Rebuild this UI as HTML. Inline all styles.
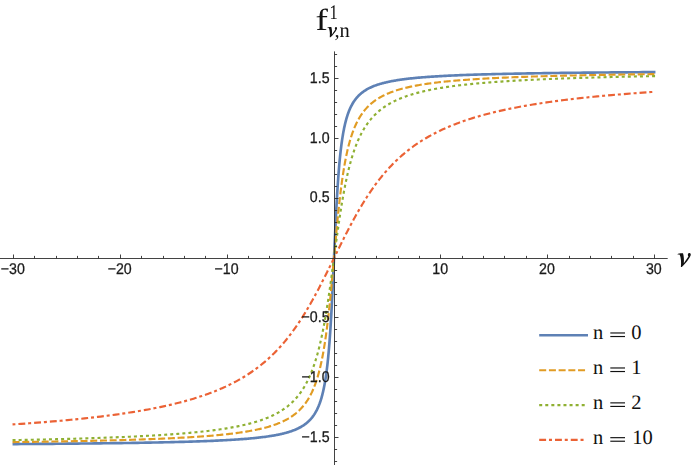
<!DOCTYPE html>
<html><head><meta charset="utf-8"><title>plot</title>
<style>html,body{margin:0;padding:0;background:#fff;}body{width:692px;height:465px;overflow:hidden;font-family:"Liberation Sans",sans-serif;}svg{display:block}</style>
</head><body>
<svg width="692" height="465" viewBox="0 0 692 465">
<rect width="692" height="465" fill="#ffffff"/>
<g fill="none" stroke-linejoin="round">
<path d="M12.55,444.09 L16.81,444.06 L21.01,444.04 L25.16,444.01 L29.25,443.98 L33.29,443.95 L37.28,443.92 L41.21,443.89 L45.09,443.86 L48.92,443.84 L52.70,443.81 L56.43,443.77 L60.11,443.74 L63.74,443.71 L67.33,443.68 L70.86,443.65 L74.35,443.62 L77.79,443.58 L81.19,443.55 L84.54,443.52 L87.85,443.48 L91.11,443.45 L94.33,443.41 L97.51,443.37 L100.65,443.34 L103.74,443.30 L106.80,443.26 L109.81,443.23 L112.78,443.19 L115.72,443.15 L118.61,443.11 L121.47,443.07 L124.29,443.03 L127.07,442.99 L129.82,442.95 L132.53,442.91 L135.20,442.86 L137.84,442.82 L140.44,442.78 L143.01,442.73 L145.54,442.69 L148.04,442.64 L150.51,442.59 L152.95,442.55 L155.35,442.50 L157.72,442.45 L160.06,442.40 L162.37,442.35 L164.65,442.30 L166.90,442.25 L169.12,442.20 L171.31,442.15 L173.47,442.10 L175.60,442.04 L177.70,441.99 L179.78,441.93 L181.83,441.88 L183.85,441.82 L185.84,441.76 L187.81,441.71 L189.75,441.65 L191.67,441.59 L193.56,441.53 L195.43,441.47 L197.27,441.40 L199.09,441.34 L200.88,441.28 L202.65,441.21 L204.40,441.15 L206.12,441.08 L207.82,441.01 L209.50,440.95 L211.16,440.88 L212.79,440.81 L214.41,440.74 L216.00,440.66 L217.57,440.59 L219.12,440.52 L220.65,440.44 L222.16,440.37 L223.65,440.29 L225.12,440.21 L226.57,440.13 L228.00,440.05 L229.41,439.97 L230.81,439.89 L232.18,439.80 L233.54,439.72 L234.88,439.63 L236.20,439.55 L237.51,439.46 L238.79,439.37 L240.06,439.28 L241.32,439.19 L242.56,439.09 L243.78,439.00 L244.98,438.90 L246.17,438.81 L247.35,438.71 L248.50,438.61 L249.65,438.51 L250.78,438.41 L251.89,438.30 L252.99,438.20 L254.07,438.09 L255.14,437.98 L256.20,437.87 L257.24,437.76 L258.27,437.65 L259.28,437.54 L260.29,437.42 L261.27,437.30 L262.25,437.18 L263.21,437.06 L264.16,436.94 L265.10,436.82 L266.03,436.69 L266.94,436.56 L267.84,436.44 L268.73,436.30 L269.61,436.17 L270.48,436.04 L271.34,435.90 L272.18,435.76 L273.01,435.62 L273.84,435.48 L274.65,435.34 L275.45,435.19 L276.24,435.04 L277.02,434.89 L277.79,434.74 L278.55,434.58 L279.30,434.43 L280.05,434.27 L280.78,434.11 L281.50,433.94 L282.21,433.78 L282.92,433.61 L283.61,433.44 L284.30,433.27 L284.97,433.09 L285.64,432.91 L286.30,432.73 L286.95,432.55 L287.59,432.36 L288.23,432.18 L288.85,431.98 L289.47,431.79 L290.08,431.59 L290.68,431.39 L291.28,431.19 L291.87,430.99 L292.45,430.78 L293.02,430.57 L293.58,430.35 L294.14,430.14 L294.69,429.91 L295.23,429.69 L295.77,429.46 L296.30,429.23 L296.82,429.00 L297.34,428.76 L297.85,428.52 L298.36,428.28 L298.85,428.03 L299.34,427.78 L299.83,427.52 L300.31,427.26 L300.78,427.00 L301.25,426.73 L301.71,426.46 L302.16,426.18 L302.61,425.90 L303.06,425.62 L303.50,425.33 L303.93,425.04 L304.36,424.74 L304.78,424.44 L305.20,424.13 L305.61,423.82 L306.02,423.50 L306.42,423.18 L306.82,422.86 L307.21,422.53 L307.60,422.19 L307.98,421.85 L308.36,421.50 L308.73,421.15 L309.10,420.79 L309.47,420.42 L309.83,420.05 L310.19,419.67 L310.54,419.29 L310.89,418.90 L311.23,418.50 L311.57,418.10 L311.90,417.69 L312.24,417.28 L312.56,416.85 L312.89,416.42 L313.21,415.98 L313.53,415.54 L313.84,415.08 L314.15,414.62 L314.45,414.15 L314.76,413.67 L315.06,413.19 L315.35,412.69 L315.64,412.19 L315.93,411.68 L316.22,411.15 L316.50,410.62 L316.78,410.08 L317.06,409.53 L317.33,408.96 L317.60,408.39 L317.87,407.81 L318.14,407.21 L318.40,406.60 L318.66,405.99 L318.91,405.35 L319.17,404.71 L319.42,404.06 L319.67,403.39 L319.91,402.70 L320.16,402.01 L320.40,401.30 L320.64,400.57 L320.87,399.83 L321.11,399.07 L321.34,398.30 L321.57,397.51 L321.80,396.71 L322.02,395.88 L322.24,395.04 L322.46,394.18 L322.68,393.30 L322.90,392.40 L323.12,391.48 L323.33,390.54 L323.54,389.58 L323.75,388.60 L323.96,387.59 L324.16,386.56 L324.36,385.50 L324.57,384.42 L324.77,383.31 L324.97,382.18 L325.16,381.02 L325.36,379.82 L325.55,378.60 L325.75,377.35 L325.94,376.07 L326.13,374.75 L326.31,373.40 L326.50,372.01 L326.69,370.59 L326.87,369.13 L327.05,367.63 L327.24,366.09 L327.42,364.51 L327.60,362.89 L327.77,361.23 L327.95,359.52 L328.13,357.76 L328.30,355.96 L328.48,354.11 L328.65,352.20 L328.82,350.25 L328.99,348.24 L329.16,346.18 L329.33,344.06 L329.50,341.89 L329.67,339.65 L329.83,337.36 L330.00,335.01 L330.17,332.60 L330.33,330.13 L330.50,327.59 L330.66,325.00 L330.82,322.34 L330.98,319.61 L331.15,316.83 L331.31,313.98 L331.47,311.07 L331.63,308.10 L331.79,305.08 L331.95,301.99 L332.11,298.85 L332.27,295.66 L332.42,292.42 L332.58,289.13 L332.74,285.80 L332.90,282.43 L333.06,279.02 L333.21,275.58 L333.37,272.12 L333.53,268.63 L333.69,265.13 L333.84,261.62 L334.00,258.10 L334.16,254.58 L334.31,251.07 L334.47,247.57 L334.63,244.08 L334.79,240.62 L334.94,237.18 L335.10,233.77 L335.26,230.40 L335.42,227.07 L335.58,223.78 L335.73,220.54 L335.89,217.35 L336.05,214.21 L336.21,211.12 L336.37,208.10 L336.53,205.13 L336.69,202.22 L336.85,199.37 L337.02,196.59 L337.18,193.86 L337.34,191.20 L337.50,188.61 L337.67,186.07 L337.83,183.60 L338.00,181.19 L338.17,178.84 L338.33,176.55 L338.50,174.31 L338.67,172.14 L338.84,170.02 L339.01,167.96 L339.18,165.95 L339.35,164.00 L339.52,162.09 L339.70,160.24 L339.87,158.44 L340.05,156.68 L340.23,154.97 L340.40,153.31 L340.58,151.69 L340.76,150.11 L340.95,148.57 L341.13,147.07 L341.31,145.61 L341.50,144.19 L341.69,142.80 L341.87,141.45 L342.06,140.13 L342.25,138.85 L342.45,137.60 L342.64,136.38 L342.84,135.18 L343.03,134.02 L343.23,132.89 L343.43,131.78 L343.64,130.70 L343.84,129.64 L344.04,128.61 L344.25,127.60 L344.46,126.62 L344.67,125.66 L344.88,124.72 L345.10,123.80 L345.32,122.90 L345.54,122.02 L345.76,121.16 L345.98,120.32 L346.20,119.49 L346.43,118.69 L346.66,117.90 L346.89,117.13 L347.13,116.37 L347.36,115.63 L347.60,114.90 L347.84,114.19 L348.09,113.50 L348.33,112.81 L348.58,112.14 L348.83,111.49 L349.09,110.85 L349.34,110.21 L349.60,109.60 L349.86,108.99 L350.13,108.39 L350.40,107.81 L350.67,107.24 L350.94,106.67 L351.22,106.12 L351.50,105.58 L351.78,105.05 L352.07,104.52 L352.36,104.01 L352.65,103.51 L352.94,103.01 L353.24,102.53 L353.55,102.05 L353.85,101.58 L354.16,101.12 L354.47,100.66 L354.79,100.22 L355.11,99.78 L355.44,99.35 L355.76,98.92 L356.10,98.51 L356.43,98.10 L356.77,97.70 L357.11,97.30 L357.46,96.91 L357.81,96.53 L358.17,96.15 L358.53,95.78 L358.90,95.41 L359.27,95.05 L359.64,94.70 L360.02,94.35 L360.40,94.01 L360.79,93.67 L361.18,93.34 L361.58,93.02 L361.98,92.70 L362.39,92.38 L362.80,92.07 L363.22,91.76 L363.64,91.46 L364.07,91.16 L364.50,90.87 L364.94,90.58 L365.39,90.30 L365.84,90.02 L366.29,89.74 L366.75,89.47 L367.22,89.20 L367.69,88.94 L368.17,88.68 L368.66,88.42 L369.15,88.17 L369.64,87.92 L370.15,87.68 L370.66,87.44 L371.18,87.20 L371.70,86.97 L372.23,86.74 L372.77,86.51 L373.31,86.29 L373.86,86.06 L374.42,85.85 L374.98,85.63 L375.55,85.42 L376.13,85.21 L376.72,85.01 L377.32,84.81 L377.92,84.61 L378.53,84.41 L379.15,84.22 L379.77,84.02 L380.41,83.84 L381.05,83.65 L381.70,83.47 L382.36,83.29 L383.03,83.11 L383.70,82.93 L384.39,82.76 L385.08,82.59 L385.79,82.42 L386.50,82.26 L387.22,82.09 L387.95,81.93 L388.70,81.77 L389.45,81.62 L390.21,81.46 L390.98,81.31 L391.76,81.16 L392.55,81.01 L393.35,80.86 L394.16,80.72 L394.99,80.58 L395.82,80.44 L396.66,80.30 L397.52,80.16 L398.39,80.03 L399.27,79.90 L400.16,79.76 L401.06,79.64 L401.97,79.51 L402.90,79.38 L403.84,79.26 L404.79,79.14 L405.75,79.02 L406.73,78.90 L407.71,78.78 L408.72,78.66 L409.73,78.55 L410.76,78.44 L411.80,78.33 L412.86,78.22 L413.93,78.11 L415.01,78.00 L416.11,77.90 L417.22,77.79 L418.35,77.69 L419.50,77.59 L420.65,77.49 L421.83,77.39 L423.02,77.30 L424.22,77.20 L425.44,77.11 L426.68,77.01 L427.94,76.92 L429.21,76.83 L430.49,76.74 L431.80,76.65 L433.12,76.57 L434.46,76.48 L435.82,76.40 L437.19,76.31 L438.59,76.23 L440.00,76.15 L441.43,76.07 L442.88,75.99 L444.35,75.91 L445.84,75.83 L447.35,75.76 L448.88,75.68 L450.43,75.61 L452.00,75.54 L453.59,75.46 L455.21,75.39 L456.84,75.32 L458.50,75.25 L460.18,75.19 L461.88,75.12 L463.60,75.05 L465.35,74.99 L467.12,74.92 L468.91,74.86 L470.73,74.80 L472.57,74.73 L474.44,74.67 L476.33,74.61 L478.25,74.55 L480.19,74.49 L482.16,74.44 L484.15,74.38 L486.17,74.32 L488.22,74.27 L490.30,74.21 L492.40,74.16 L494.53,74.10 L496.69,74.05 L498.88,74.00 L501.10,73.95 L503.35,73.90 L505.63,73.85 L507.94,73.80 L510.28,73.75 L512.65,73.70 L515.05,73.65 L517.49,73.61 L519.96,73.56 L522.46,73.51 L524.99,73.47 L527.56,73.42 L530.16,73.38 L532.80,73.34 L535.47,73.29 L538.18,73.25 L540.93,73.21 L543.71,73.17 L546.53,73.13 L549.39,73.09 L552.28,73.05 L555.22,73.01 L558.19,72.97 L561.20,72.94 L564.26,72.90 L567.35,72.86 L570.49,72.83 L573.67,72.79 L576.89,72.75 L580.15,72.72 L583.46,72.68 L586.81,72.65 L590.21,72.62 L593.65,72.58 L597.14,72.55 L600.67,72.52 L604.26,72.49 L607.89,72.46 L611.57,72.43 L615.30,72.39 L619.08,72.36 L622.91,72.34 L626.79,72.31 L630.72,72.28 L634.71,72.25 L638.75,72.22 L642.84,72.19 L646.99,72.16 L651.19,72.14 L655.45,72.11" stroke="#5e81b5" stroke-width="2.65" stroke-linecap="butt"/>
<path d="M12.55,442.10 L16.81,442.05 L21.01,441.99 L25.16,441.94 L29.25,441.88 L33.29,441.83 L37.28,441.77 L41.21,441.71 L45.09,441.65 L48.92,441.59 L52.70,441.53 L56.43,441.47 L60.11,441.41 L63.74,441.35 L67.33,441.29 L70.86,441.22 L74.35,441.16 L77.79,441.09 L81.19,441.02 L84.54,440.96 L87.85,440.89 L91.11,440.82 L94.33,440.75 L97.51,440.67 L100.65,440.60 L103.74,440.53 L106.80,440.45 L109.81,440.38 L112.78,440.30 L115.72,440.23 L118.61,440.15 L121.47,440.07 L124.29,439.99 L127.07,439.90 L129.82,439.82 L132.53,439.74 L135.20,439.65 L137.84,439.57 L140.44,439.48 L143.01,439.39 L145.54,439.30 L148.04,439.21 L150.51,439.12 L152.95,439.02 L155.35,438.93 L157.72,438.83 L160.06,438.74 L162.37,438.64 L164.65,438.54 L166.90,438.44 L169.12,438.33 L171.31,438.23 L173.47,438.13 L175.60,438.02 L177.70,437.91 L179.78,437.80 L181.83,437.69 L183.85,437.58 L185.84,437.46 L187.81,437.35 L189.75,437.23 L191.67,437.11 L193.56,436.99 L195.43,436.87 L197.27,436.75 L199.09,436.62 L200.88,436.49 L202.65,436.37 L204.40,436.24 L206.12,436.10 L207.82,435.97 L209.50,435.83 L211.16,435.70 L212.79,435.56 L214.41,435.42 L216.00,435.27 L217.57,435.13 L219.12,434.98 L220.65,434.83 L222.16,434.68 L223.65,434.53 L225.12,434.37 L226.57,434.22 L228.00,434.06 L229.41,433.90 L230.81,433.73 L232.18,433.57 L233.54,433.40 L234.88,433.23 L236.20,433.06 L237.51,432.88 L238.79,432.71 L240.06,432.53 L241.32,432.34 L242.56,432.16 L243.78,431.97 L244.98,431.78 L246.17,431.59 L247.35,431.40 L248.50,431.20 L249.65,431.00 L250.78,430.80 L251.89,430.59 L252.99,430.39 L254.07,430.18 L255.14,429.96 L256.20,429.75 L257.24,429.53 L258.27,429.31 L259.28,429.08 L260.29,428.85 L261.27,428.62 L262.25,428.39 L263.21,428.15 L264.16,427.91 L265.10,427.67 L266.03,427.42 L266.94,427.17 L267.84,426.92 L268.73,426.66 L269.61,426.40 L270.48,426.14 L271.34,425.87 L272.18,425.60 L273.01,425.33 L273.84,425.05 L274.65,424.77 L275.45,424.48 L276.24,424.19 L277.02,423.90 L277.79,423.60 L278.55,423.30 L279.30,422.99 L280.05,422.69 L280.78,422.37 L281.50,422.05 L282.21,421.73 L282.92,421.41 L283.61,421.08 L284.30,420.74 L284.97,420.40 L285.64,420.06 L286.30,419.71 L286.95,419.36 L287.59,419.00 L288.23,418.64 L288.85,418.27 L289.47,417.90 L290.08,417.52 L290.68,417.14 L291.28,416.75 L291.87,416.36 L292.45,415.96 L293.02,415.56 L293.58,415.15 L294.14,414.74 L294.69,414.32 L295.23,413.90 L295.77,413.47 L296.30,413.03 L296.82,412.59 L297.34,412.14 L297.85,411.69 L298.36,411.23 L298.85,410.77 L299.34,410.29 L299.83,409.82 L300.31,409.33 L300.78,408.84 L301.25,408.35 L301.71,407.84 L302.16,407.33 L302.61,406.82 L303.06,406.29 L303.50,405.76 L303.93,405.23 L304.36,404.68 L304.78,404.13 L305.20,403.57 L305.61,403.01 L306.02,402.43 L306.42,401.85 L306.82,401.26 L307.21,400.67 L307.60,400.07 L307.98,399.45 L308.36,398.83 L308.73,398.21 L309.10,397.57 L309.47,396.93 L309.83,396.28 L310.19,395.62 L310.54,394.95 L310.89,394.27 L311.23,393.58 L311.57,392.89 L311.90,392.18 L312.24,391.47 L312.56,390.75 L312.89,390.02 L313.21,389.27 L313.53,388.52 L313.84,387.77 L314.15,387.00 L314.45,386.22 L314.76,385.43 L315.06,384.63 L315.35,383.82 L315.64,383.00 L315.93,382.17 L316.22,381.33 L316.50,380.48 L316.78,379.62 L317.06,378.75 L317.33,377.87 L317.60,376.97 L317.87,376.07 L318.14,375.15 L318.40,374.23 L318.66,373.29 L318.91,372.34 L319.17,371.38 L319.42,370.41 L319.67,369.42 L319.91,368.43 L320.16,367.42 L320.40,366.40 L320.64,365.37 L320.87,364.33 L321.11,363.27 L321.34,362.20 L321.57,361.12 L321.80,360.03 L322.02,358.93 L322.24,357.81 L322.46,356.68 L322.68,355.53 L322.90,354.38 L323.12,353.21 L323.33,352.03 L323.54,350.83 L323.75,349.63 L323.96,348.40 L324.16,347.17 L324.36,345.92 L324.57,344.66 L324.77,343.39 L324.97,342.10 L325.16,340.81 L325.36,339.49 L325.55,338.17 L325.75,336.83 L325.94,335.48 L326.13,334.11 L326.31,332.73 L326.50,331.34 L326.69,329.94 L326.87,328.52 L327.05,327.10 L327.24,325.65 L327.42,324.20 L327.60,322.73 L327.77,321.25 L327.95,319.76 L328.13,318.26 L328.30,316.74 L328.48,315.21 L328.65,313.68 L328.82,312.13 L328.99,310.56 L329.16,308.99 L329.33,307.41 L329.50,305.81 L329.67,304.21 L329.83,302.59 L330.00,300.97 L330.17,299.33 L330.33,297.69 L330.50,296.04 L330.66,294.38 L330.82,292.71 L330.98,291.03 L331.15,289.34 L331.31,287.65 L331.47,285.95 L331.63,284.24 L331.79,282.53 L331.95,280.81 L332.11,279.08 L332.27,277.35 L332.42,275.62 L332.58,273.88 L332.74,272.14 L332.90,270.39 L333.06,268.64 L333.21,266.89 L333.37,265.13 L333.53,263.38 L333.69,261.62 L333.84,259.86 L334.00,258.10 L334.16,256.34 L334.31,254.58 L334.47,252.82 L334.63,251.07 L334.79,249.31 L334.94,247.56 L335.10,245.81 L335.26,244.06 L335.42,242.32 L335.58,240.58 L335.73,238.85 L335.89,237.12 L336.05,235.39 L336.21,233.67 L336.37,231.96 L336.53,230.25 L336.69,228.55 L336.85,226.86 L337.02,225.17 L337.18,223.49 L337.34,221.82 L337.50,220.16 L337.67,218.51 L337.83,216.87 L338.00,215.23 L338.17,213.61 L338.33,211.99 L338.50,210.39 L338.67,208.79 L338.84,207.21 L339.01,205.64 L339.18,204.07 L339.35,202.52 L339.52,200.99 L339.70,199.46 L339.87,197.94 L340.05,196.44 L340.23,194.95 L340.40,193.47 L340.58,192.00 L340.76,190.55 L340.95,189.10 L341.13,187.68 L341.31,186.26 L341.50,184.86 L341.69,183.47 L341.87,182.09 L342.06,180.72 L342.25,179.37 L342.45,178.03 L342.64,176.71 L342.84,175.39 L343.03,174.10 L343.23,172.81 L343.43,171.54 L343.64,170.28 L343.84,169.03 L344.04,167.80 L344.25,166.57 L344.46,165.37 L344.67,164.17 L344.88,162.99 L345.10,161.82 L345.32,160.67 L345.54,159.52 L345.76,158.39 L345.98,157.27 L346.20,156.17 L346.43,155.08 L346.66,154.00 L346.89,152.93 L347.13,151.87 L347.36,150.83 L347.60,149.80 L347.84,148.78 L348.09,147.77 L348.33,146.78 L348.58,145.79 L348.83,144.82 L349.09,143.86 L349.34,142.91 L349.60,141.97 L349.86,141.05 L350.13,140.13 L350.40,139.23 L350.67,138.33 L350.94,137.45 L351.22,136.58 L351.50,135.72 L351.78,134.87 L352.07,134.03 L352.36,133.20 L352.65,132.38 L352.94,131.57 L353.24,130.77 L353.55,129.98 L353.85,129.20 L354.16,128.43 L354.47,127.68 L354.79,126.93 L355.11,126.18 L355.44,125.45 L355.76,124.73 L356.10,124.02 L356.43,123.31 L356.77,122.62 L357.11,121.93 L357.46,121.25 L357.81,120.58 L358.17,119.92 L358.53,119.27 L358.90,118.63 L359.27,117.99 L359.64,117.37 L360.02,116.75 L360.40,116.13 L360.79,115.53 L361.18,114.94 L361.58,114.35 L361.98,113.77 L362.39,113.19 L362.80,112.63 L363.22,112.07 L363.64,111.52 L364.07,110.97 L364.50,110.44 L364.94,109.91 L365.39,109.38 L365.84,108.87 L366.29,108.36 L366.75,107.85 L367.22,107.36 L367.69,106.87 L368.17,106.38 L368.66,105.91 L369.15,105.43 L369.64,104.97 L370.15,104.51 L370.66,104.06 L371.18,103.61 L371.70,103.17 L372.23,102.73 L372.77,102.30 L373.31,101.88 L373.86,101.46 L374.42,101.05 L374.98,100.64 L375.55,100.24 L376.13,99.84 L376.72,99.45 L377.32,99.06 L377.92,98.68 L378.53,98.30 L379.15,97.93 L379.77,97.56 L380.41,97.20 L381.05,96.84 L381.70,96.49 L382.36,96.14 L383.03,95.80 L383.70,95.46 L384.39,95.12 L385.08,94.79 L385.79,94.47 L386.50,94.15 L387.22,93.83 L387.95,93.51 L388.70,93.21 L389.45,92.90 L390.21,92.60 L390.98,92.30 L391.76,92.01 L392.55,91.72 L393.35,91.43 L394.16,91.15 L394.99,90.87 L395.82,90.60 L396.66,90.33 L397.52,90.06 L398.39,89.80 L399.27,89.54 L400.16,89.28 L401.06,89.03 L401.97,88.78 L402.90,88.53 L403.84,88.29 L404.79,88.05 L405.75,87.81 L406.73,87.58 L407.71,87.35 L408.72,87.12 L409.73,86.89 L410.76,86.67 L411.80,86.45 L412.86,86.24 L413.93,86.02 L415.01,85.81 L416.11,85.61 L417.22,85.40 L418.35,85.20 L419.50,85.00 L420.65,84.80 L421.83,84.61 L423.02,84.42 L424.22,84.23 L425.44,84.04 L426.68,83.86 L427.94,83.67 L429.21,83.49 L430.49,83.32 L431.80,83.14 L433.12,82.97 L434.46,82.80 L435.82,82.63 L437.19,82.47 L438.59,82.30 L440.00,82.14 L441.43,81.98 L442.88,81.83 L444.35,81.67 L445.84,81.52 L447.35,81.37 L448.88,81.22 L450.43,81.07 L452.00,80.93 L453.59,80.78 L455.21,80.64 L456.84,80.50 L458.50,80.37 L460.18,80.23 L461.88,80.10 L463.60,79.96 L465.35,79.83 L467.12,79.71 L468.91,79.58 L470.73,79.45 L472.57,79.33 L474.44,79.21 L476.33,79.09 L478.25,78.97 L480.19,78.85 L482.16,78.74 L484.15,78.62 L486.17,78.51 L488.22,78.40 L490.30,78.29 L492.40,78.18 L494.53,78.07 L496.69,77.97 L498.88,77.87 L501.10,77.76 L503.35,77.66 L505.63,77.56 L507.94,77.46 L510.28,77.37 L512.65,77.27 L515.05,77.18 L517.49,77.08 L519.96,76.99 L522.46,76.90 L524.99,76.81 L527.56,76.72 L530.16,76.63 L532.80,76.55 L535.47,76.46 L538.18,76.38 L540.93,76.30 L543.71,76.21 L546.53,76.13 L549.39,76.05 L552.28,75.97 L555.22,75.90 L558.19,75.82 L561.20,75.75 L564.26,75.67 L567.35,75.60 L570.49,75.53 L573.67,75.45 L576.89,75.38 L580.15,75.31 L583.46,75.24 L586.81,75.18 L590.21,75.11 L593.65,75.04 L597.14,74.98 L600.67,74.91 L604.26,74.85 L607.89,74.79 L611.57,74.73 L615.30,74.67 L619.08,74.61 L622.91,74.55 L626.79,74.49 L630.72,74.43 L634.71,74.37 L638.75,74.32 L642.84,74.26 L646.99,74.21 L651.19,74.15 L655.45,74.10" stroke="#e19c24" stroke-width="2.15" stroke-dasharray="7.0 2.712"/>
<path d="M12.55,440.12 L16.81,440.04 L21.01,439.96 L25.16,439.87 L29.25,439.79 L33.29,439.71 L37.28,439.62 L41.21,439.53 L45.09,439.45 L48.92,439.36 L52.70,439.27 L56.43,439.18 L60.11,439.08 L63.74,438.99 L67.33,438.89 L70.86,438.80 L74.35,438.70 L77.79,438.60 L81.19,438.50 L84.54,438.40 L87.85,438.30 L91.11,438.19 L94.33,438.09 L97.51,437.98 L100.65,437.87 L103.74,437.76 L106.80,437.65 L109.81,437.54 L112.78,437.42 L115.72,437.31 L118.61,437.19 L121.47,437.07 L124.29,436.95 L127.07,436.83 L129.82,436.70 L132.53,436.58 L135.20,436.45 L137.84,436.32 L140.44,436.19 L143.01,436.06 L145.54,435.93 L148.04,435.79 L150.51,435.65 L152.95,435.51 L155.35,435.37 L157.72,435.23 L160.06,435.08 L162.37,434.94 L164.65,434.79 L166.90,434.64 L169.12,434.48 L171.31,434.33 L173.47,434.17 L175.60,434.01 L177.70,433.85 L179.78,433.69 L181.83,433.52 L183.85,433.35 L185.84,433.18 L187.81,433.01 L189.75,432.84 L191.67,432.66 L193.56,432.48 L195.43,432.30 L197.27,432.12 L199.09,431.93 L200.88,431.74 L202.65,431.55 L204.40,431.36 L206.12,431.16 L207.82,430.96 L209.50,430.76 L211.16,430.55 L212.79,430.35 L214.41,430.14 L216.00,429.92 L217.57,429.71 L219.12,429.49 L220.65,429.27 L222.16,429.05 L223.65,428.82 L225.12,428.59 L226.57,428.36 L228.00,428.12 L229.41,427.88 L230.81,427.64 L232.18,427.40 L233.54,427.15 L234.88,426.90 L236.20,426.64 L237.51,426.38 L238.79,426.12 L240.06,425.86 L241.32,425.59 L242.56,425.32 L243.78,425.04 L244.98,424.76 L246.17,424.48 L247.35,424.19 L248.50,423.90 L249.65,423.61 L250.78,423.31 L251.89,423.01 L252.99,422.71 L254.07,422.40 L255.14,422.09 L256.20,421.77 L257.24,421.45 L258.27,421.12 L259.28,420.79 L260.29,420.46 L261.27,420.12 L262.25,419.78 L263.21,419.44 L264.16,419.08 L265.10,418.73 L266.03,418.37 L266.94,418.01 L267.84,417.64 L268.73,417.27 L269.61,416.89 L270.48,416.50 L271.34,416.12 L272.18,415.73 L273.01,415.33 L273.84,414.93 L274.65,414.52 L275.45,414.11 L276.24,413.69 L277.02,413.27 L277.79,412.84 L278.55,412.41 L279.30,411.97 L280.05,411.53 L280.78,411.08 L281.50,410.63 L282.21,410.17 L282.92,409.70 L283.61,409.23 L284.30,408.76 L284.97,408.27 L285.64,407.79 L286.30,407.29 L286.95,406.79 L287.59,406.29 L288.23,405.78 L288.85,405.26 L289.47,404.74 L290.08,404.21 L290.68,403.67 L291.28,403.13 L291.87,402.59 L292.45,402.03 L293.02,401.47 L293.58,400.91 L294.14,400.33 L294.69,399.75 L295.23,399.17 L295.77,398.58 L296.30,397.98 L296.82,397.37 L297.34,396.76 L297.85,396.14 L298.36,395.52 L298.85,394.89 L299.34,394.25 L299.83,393.60 L300.31,392.95 L300.78,392.29 L301.25,391.62 L301.71,390.95 L302.16,390.27 L302.61,389.59 L303.06,388.89 L303.50,388.19 L303.93,387.48 L304.36,386.77 L304.78,386.05 L305.20,385.32 L305.61,384.58 L306.02,383.84 L306.42,383.09 L306.82,382.33 L307.21,381.57 L307.60,380.80 L307.98,380.02 L308.36,379.23 L308.73,378.44 L309.10,377.64 L309.47,376.83 L309.83,376.02 L310.19,375.20 L310.54,374.37 L310.89,373.53 L311.23,372.69 L311.57,371.84 L311.90,370.99 L312.24,370.12 L312.56,369.26 L312.89,368.38 L313.21,367.50 L313.53,366.61 L313.84,365.71 L314.15,364.80 L314.45,363.89 L314.76,362.98 L315.06,362.05 L315.35,361.13 L315.64,360.19 L315.93,359.25 L316.22,358.30 L316.50,357.34 L316.78,356.38 L317.06,355.41 L317.33,354.44 L317.60,353.46 L317.87,352.48 L318.14,351.49 L318.40,350.49 L318.66,349.49 L318.91,348.48 L319.17,347.47 L319.42,346.45 L319.67,345.43 L319.91,344.40 L320.16,343.36 L320.40,342.32 L320.64,341.28 L320.87,340.23 L321.11,339.18 L321.34,338.12 L321.57,337.06 L321.80,335.99 L322.02,334.92 L322.24,333.85 L322.46,332.77 L322.68,331.68 L322.90,330.60 L323.12,329.50 L323.33,328.41 L323.54,327.31 L323.75,326.21 L323.96,325.11 L324.16,324.00 L324.36,322.89 L324.57,321.77 L324.77,320.65 L324.97,319.53 L325.16,318.41 L325.36,317.28 L325.55,316.16 L325.75,315.03 L325.94,313.89 L326.13,312.76 L326.31,311.62 L326.50,310.48 L326.69,309.34 L326.87,308.20 L327.05,307.05 L327.24,305.90 L327.42,304.75 L327.60,303.60 L327.77,302.45 L327.95,301.30 L328.13,300.14 L328.30,298.99 L328.48,297.83 L328.65,296.67 L328.82,295.51 L328.99,294.35 L329.16,293.19 L329.33,292.03 L329.50,290.86 L329.67,289.70 L329.83,288.54 L330.00,287.37 L330.17,286.20 L330.33,285.04 L330.50,283.87 L330.66,282.70 L330.82,281.53 L330.98,280.36 L331.15,279.19 L331.31,278.02 L331.47,276.85 L331.63,275.68 L331.79,274.51 L331.95,273.34 L332.11,272.17 L332.27,271.00 L332.42,269.83 L332.58,268.65 L332.74,267.48 L332.90,266.31 L333.06,265.14 L333.21,263.96 L333.37,262.79 L333.53,261.62 L333.69,260.45 L333.84,259.27 L334.00,258.10 L334.16,256.93 L334.31,255.75 L334.47,254.58 L334.63,253.41 L334.79,252.24 L334.94,251.06 L335.10,249.89 L335.26,248.72 L335.42,247.55 L335.58,246.37 L335.73,245.20 L335.89,244.03 L336.05,242.86 L336.21,241.69 L336.37,240.52 L336.53,239.35 L336.69,238.18 L336.85,237.01 L337.02,235.84 L337.18,234.67 L337.34,233.50 L337.50,232.33 L337.67,231.16 L337.83,230.00 L338.00,228.83 L338.17,227.66 L338.33,226.50 L338.50,225.34 L338.67,224.17 L338.84,223.01 L339.01,221.85 L339.18,220.69 L339.35,219.53 L339.52,218.37 L339.70,217.21 L339.87,216.06 L340.05,214.90 L340.23,213.75 L340.40,212.60 L340.58,211.45 L340.76,210.30 L340.95,209.15 L341.13,208.00 L341.31,206.86 L341.50,205.72 L341.69,204.58 L341.87,203.44 L342.06,202.31 L342.25,201.17 L342.45,200.04 L342.64,198.92 L342.84,197.79 L343.03,196.67 L343.23,195.55 L343.43,194.43 L343.64,193.31 L343.84,192.20 L344.04,191.09 L344.25,189.99 L344.46,188.89 L344.67,187.79 L344.88,186.70 L345.10,185.60 L345.32,184.52 L345.54,183.43 L345.76,182.35 L345.98,181.28 L346.20,180.21 L346.43,179.14 L346.66,178.08 L346.89,177.02 L347.13,175.97 L347.36,174.92 L347.60,173.88 L347.84,172.84 L348.09,171.80 L348.33,170.77 L348.58,169.75 L348.83,168.73 L349.09,167.72 L349.34,166.71 L349.60,165.71 L349.86,164.71 L350.13,163.72 L350.40,162.74 L350.67,161.76 L350.94,160.79 L351.22,159.82 L351.50,158.86 L351.78,157.90 L352.07,156.95 L352.36,156.01 L352.65,155.07 L352.94,154.15 L353.24,153.22 L353.55,152.31 L353.85,151.40 L354.16,150.49 L354.47,149.59 L354.79,148.70 L355.11,147.82 L355.44,146.94 L355.76,146.08 L356.10,145.21 L356.43,144.36 L356.77,143.51 L357.11,142.67 L357.46,141.83 L357.81,141.00 L358.17,140.18 L358.53,139.37 L358.90,138.56 L359.27,137.76 L359.64,136.97 L360.02,136.18 L360.40,135.40 L360.79,134.63 L361.18,133.87 L361.58,133.11 L361.98,132.36 L362.39,131.62 L362.80,130.88 L363.22,130.15 L363.64,129.43 L364.07,128.72 L364.50,128.01 L364.94,127.31 L365.39,126.61 L365.84,125.93 L366.29,125.25 L366.75,124.58 L367.22,123.91 L367.69,123.25 L368.17,122.60 L368.66,121.95 L369.15,121.31 L369.64,120.68 L370.15,120.06 L370.66,119.44 L371.18,118.83 L371.70,118.22 L372.23,117.62 L372.77,117.03 L373.31,116.45 L373.86,115.87 L374.42,115.29 L374.98,114.73 L375.55,114.17 L376.13,113.61 L376.72,113.07 L377.32,112.53 L377.92,111.99 L378.53,111.46 L379.15,110.94 L379.77,110.42 L380.41,109.91 L381.05,109.41 L381.70,108.91 L382.36,108.41 L383.03,107.93 L383.70,107.44 L384.39,106.97 L385.08,106.50 L385.79,106.03 L386.50,105.57 L387.22,105.12 L387.95,104.67 L388.70,104.23 L389.45,103.79 L390.21,103.36 L390.98,102.93 L391.76,102.51 L392.55,102.09 L393.35,101.68 L394.16,101.27 L394.99,100.87 L395.82,100.47 L396.66,100.08 L397.52,99.70 L398.39,99.31 L399.27,98.93 L400.16,98.56 L401.06,98.19 L401.97,97.83 L402.90,97.47 L403.84,97.12 L404.79,96.76 L405.75,96.42 L406.73,96.08 L407.71,95.74 L408.72,95.41 L409.73,95.08 L410.76,94.75 L411.80,94.43 L412.86,94.11 L413.93,93.80 L415.01,93.49 L416.11,93.19 L417.22,92.89 L418.35,92.59 L419.50,92.30 L420.65,92.01 L421.83,91.72 L423.02,91.44 L424.22,91.16 L425.44,90.88 L426.68,90.61 L427.94,90.34 L429.21,90.08 L430.49,89.82 L431.80,89.56 L433.12,89.30 L434.46,89.05 L435.82,88.80 L437.19,88.56 L438.59,88.32 L440.00,88.08 L441.43,87.84 L442.88,87.61 L444.35,87.38 L445.84,87.15 L447.35,86.93 L448.88,86.71 L450.43,86.49 L452.00,86.28 L453.59,86.06 L455.21,85.85 L456.84,85.65 L458.50,85.44 L460.18,85.24 L461.88,85.04 L463.60,84.84 L465.35,84.65 L467.12,84.46 L468.91,84.27 L470.73,84.08 L472.57,83.90 L474.44,83.72 L476.33,83.54 L478.25,83.36 L480.19,83.19 L482.16,83.02 L484.15,82.85 L486.17,82.68 L488.22,82.51 L490.30,82.35 L492.40,82.19 L494.53,82.03 L496.69,81.87 L498.88,81.72 L501.10,81.56 L503.35,81.41 L505.63,81.26 L507.94,81.12 L510.28,80.97 L512.65,80.83 L515.05,80.69 L517.49,80.55 L519.96,80.41 L522.46,80.27 L524.99,80.14 L527.56,80.01 L530.16,79.88 L532.80,79.75 L535.47,79.62 L538.18,79.50 L540.93,79.37 L543.71,79.25 L546.53,79.13 L549.39,79.01 L552.28,78.89 L555.22,78.78 L558.19,78.66 L561.20,78.55 L564.26,78.44 L567.35,78.33 L570.49,78.22 L573.67,78.11 L576.89,78.01 L580.15,77.90 L583.46,77.80 L586.81,77.70 L590.21,77.60 L593.65,77.50 L597.14,77.40 L600.67,77.31 L604.26,77.21 L607.89,77.12 L611.57,77.02 L615.30,76.93 L619.08,76.84 L622.91,76.75 L626.79,76.67 L630.72,76.58 L634.71,76.49 L638.75,76.41 L642.84,76.33 L646.99,76.24 L651.19,76.16 L655.45,76.08" stroke="#8fb032" stroke-width="2.15" stroke-dasharray="3.0 3.07"/>
<path d="M12.55,424.44 L16.81,424.16 L21.01,423.87 L25.16,423.58 L29.25,423.28 L33.29,422.99 L37.28,422.68 L41.21,422.38 L45.09,422.07 L48.92,421.75 L52.70,421.44 L56.43,421.11 L60.11,420.79 L63.74,420.46 L67.33,420.12 L70.86,419.79 L74.35,419.45 L77.79,419.10 L81.19,418.75 L84.54,418.40 L87.85,418.04 L91.11,417.67 L94.33,417.31 L97.51,416.93 L100.65,416.56 L103.74,416.18 L106.80,415.79 L109.81,415.40 L112.78,415.01 L115.72,414.61 L118.61,414.21 L121.47,413.80 L124.29,413.39 L127.07,412.97 L129.82,412.55 L132.53,412.12 L135.20,411.69 L137.84,411.25 L140.44,410.81 L143.01,410.36 L145.54,409.91 L148.04,409.45 L150.51,408.99 L152.95,408.52 L155.35,408.05 L157.72,407.58 L160.06,407.09 L162.37,406.61 L164.65,406.11 L166.90,405.61 L169.12,405.11 L171.31,404.60 L173.47,404.09 L175.60,403.57 L177.70,403.05 L179.78,402.52 L181.83,401.98 L183.85,401.44 L185.84,400.89 L187.81,400.34 L189.75,399.79 L191.67,399.23 L193.56,398.66 L195.43,398.08 L197.27,397.51 L199.09,396.92 L200.88,396.33 L202.65,395.74 L204.40,395.14 L206.12,394.53 L207.82,393.92 L209.50,393.31 L211.16,392.69 L212.79,392.06 L214.41,391.43 L216.00,390.79 L217.57,390.15 L219.12,389.50 L220.65,388.85 L222.16,388.19 L223.65,387.53 L225.12,386.86 L226.57,386.19 L228.00,385.51 L229.41,384.82 L230.81,384.14 L232.18,383.44 L233.54,382.75 L234.88,382.04 L236.20,381.34 L237.51,380.62 L238.79,379.91 L240.06,379.19 L241.32,378.46 L242.56,377.73 L243.78,377.00 L244.98,376.26 L246.17,375.52 L247.35,374.77 L248.50,374.02 L249.65,373.27 L250.78,372.51 L251.89,371.75 L252.99,370.99 L254.07,370.22 L255.14,369.45 L256.20,368.67 L257.24,367.89 L258.27,367.11 L259.28,366.33 L260.29,365.54 L261.27,364.75 L262.25,363.96 L263.21,363.17 L264.16,362.37 L265.10,361.58 L266.03,360.78 L266.94,359.97 L267.84,359.17 L268.73,358.36 L269.61,357.56 L270.48,356.75 L271.34,355.94 L272.18,355.13 L273.01,354.32 L273.84,353.50 L274.65,352.69 L275.45,351.88 L276.24,351.06 L277.02,350.25 L277.79,349.44 L278.55,348.62 L279.30,347.81 L280.05,346.99 L280.78,346.18 L281.50,345.37 L282.21,344.55 L282.92,343.74 L283.61,342.93 L284.30,342.12 L284.97,341.32 L285.64,340.51 L286.30,339.70 L286.95,338.90 L287.59,338.10 L288.23,337.30 L288.85,336.50 L289.47,335.71 L290.08,334.91 L290.68,334.12 L291.28,333.33 L291.87,332.55 L292.45,331.76 L293.02,330.98 L293.58,330.21 L294.14,329.43 L294.69,328.66 L295.23,327.89 L295.77,327.13 L296.30,326.37 L296.82,325.61 L297.34,324.85 L297.85,324.10 L298.36,323.36 L298.85,322.61 L299.34,321.87 L299.83,321.14 L300.31,320.41 L300.78,319.68 L301.25,318.96 L301.71,318.24 L302.16,317.52 L302.61,316.81 L303.06,316.11 L303.50,315.40 L303.93,314.71 L304.36,314.01 L304.78,313.33 L305.20,312.64 L305.61,311.96 L306.02,311.29 L306.42,310.62 L306.82,309.95 L307.21,309.29 L307.60,308.64 L307.98,307.99 L308.36,307.34 L308.73,306.70 L309.10,306.06 L309.47,305.43 L309.83,304.80 L310.19,304.18 L310.54,303.57 L310.89,302.95 L311.23,302.34 L311.57,301.74 L311.90,301.14 L312.24,300.55 L312.56,299.96 L312.89,299.38 L313.21,298.80 L313.53,298.22 L313.84,297.66 L314.15,297.09 L314.45,296.53 L314.76,295.97 L315.06,295.42 L315.35,294.88 L315.64,294.33 L315.93,293.80 L316.22,293.26 L316.50,292.74 L316.78,292.21 L317.06,291.69 L317.33,291.18 L317.60,290.67 L317.87,290.16 L318.14,289.66 L318.40,289.16 L318.66,288.67 L318.91,288.18 L319.17,287.69 L319.42,287.21 L319.67,286.73 L319.91,286.26 L320.16,285.79 L320.40,285.32 L320.64,284.86 L320.87,284.40 L321.11,283.95 L321.34,283.50 L321.57,283.05 L321.80,282.61 L322.02,282.17 L322.24,281.73 L322.46,281.30 L322.68,280.87 L322.90,280.44 L323.12,280.02 L323.33,279.60 L323.54,279.19 L323.75,278.77 L323.96,278.36 L324.16,277.96 L324.36,277.55 L324.57,277.15 L324.77,276.75 L324.97,276.36 L325.16,275.96 L325.36,275.58 L325.55,275.19 L325.75,274.80 L325.94,274.42 L326.13,274.04 L326.31,273.67 L326.50,273.29 L326.69,272.92 L326.87,272.55 L327.05,272.18 L327.24,271.82 L327.42,271.45 L327.60,271.09 L327.77,270.73 L327.95,270.38 L328.13,270.02 L328.30,269.67 L328.48,269.32 L328.65,268.97 L328.82,268.62 L328.99,268.28 L329.16,267.93 L329.33,267.59 L329.50,267.25 L329.67,266.91 L329.83,266.57 L330.00,266.23 L330.17,265.90 L330.33,265.56 L330.50,265.23 L330.66,264.90 L330.82,264.57 L330.98,264.24 L331.15,263.91 L331.31,263.58 L331.47,263.25 L331.63,262.93 L331.79,262.60 L331.95,262.28 L332.11,261.95 L332.27,261.63 L332.42,261.31 L332.58,260.99 L332.74,260.66 L332.90,260.34 L333.06,260.02 L333.21,259.70 L333.37,259.38 L333.53,259.06 L333.69,258.74 L333.84,258.42 L334.00,258.10 L334.16,257.78 L334.31,257.46 L334.47,257.14 L334.63,256.82 L334.79,256.50 L334.94,256.18 L335.10,255.86 L335.26,255.54 L335.42,255.21 L335.58,254.89 L335.73,254.57 L335.89,254.25 L336.05,253.92 L336.21,253.60 L336.37,253.27 L336.53,252.95 L336.69,252.62 L336.85,252.29 L337.02,251.96 L337.18,251.63 L337.34,251.30 L337.50,250.97 L337.67,250.64 L337.83,250.30 L338.00,249.97 L338.17,249.63 L338.33,249.29 L338.50,248.95 L338.67,248.61 L338.84,248.27 L339.01,247.92 L339.18,247.58 L339.35,247.23 L339.52,246.88 L339.70,246.53 L339.87,246.18 L340.05,245.82 L340.23,245.47 L340.40,245.11 L340.58,244.75 L340.76,244.38 L340.95,244.02 L341.13,243.65 L341.31,243.28 L341.50,242.91 L341.69,242.53 L341.87,242.16 L342.06,241.78 L342.25,241.40 L342.45,241.01 L342.64,240.62 L342.84,240.24 L343.03,239.84 L343.23,239.45 L343.43,239.05 L343.64,238.65 L343.84,238.24 L344.04,237.84 L344.25,237.43 L344.46,237.01 L344.67,236.60 L344.88,236.18 L345.10,235.76 L345.32,235.33 L345.54,234.90 L345.76,234.47 L345.98,234.03 L346.20,233.59 L346.43,233.15 L346.66,232.70 L346.89,232.25 L347.13,231.80 L347.36,231.34 L347.60,230.88 L347.84,230.41 L348.09,229.94 L348.33,229.47 L348.58,228.99 L348.83,228.51 L349.09,228.02 L349.34,227.53 L349.60,227.04 L349.86,226.54 L350.13,226.04 L350.40,225.53 L350.67,225.02 L350.94,224.51 L351.22,223.99 L351.50,223.46 L351.78,222.94 L352.07,222.40 L352.36,221.87 L352.65,221.32 L352.94,220.78 L353.24,220.23 L353.55,219.67 L353.85,219.11 L354.16,218.54 L354.47,217.98 L354.79,217.40 L355.11,216.82 L355.44,216.24 L355.76,215.65 L356.10,215.06 L356.43,214.46 L356.77,213.86 L357.11,213.25 L357.46,212.63 L357.81,212.02 L358.17,211.40 L358.53,210.77 L358.90,210.14 L359.27,209.50 L359.64,208.86 L360.02,208.21 L360.40,207.56 L360.79,206.91 L361.18,206.25 L361.58,205.58 L361.98,204.91 L362.39,204.24 L362.80,203.56 L363.22,202.87 L363.64,202.19 L364.07,201.49 L364.50,200.80 L364.94,200.09 L365.39,199.39 L365.84,198.68 L366.29,197.96 L366.75,197.24 L367.22,196.52 L367.69,195.79 L368.17,195.06 L368.66,194.33 L369.15,193.59 L369.64,192.84 L370.15,192.10 L370.66,191.35 L371.18,190.59 L371.70,189.83 L372.23,189.07 L372.77,188.31 L373.31,187.54 L373.86,186.77 L374.42,185.99 L374.98,185.22 L375.55,184.44 L376.13,183.65 L376.72,182.87 L377.32,182.08 L377.92,181.29 L378.53,180.49 L379.15,179.70 L379.77,178.90 L380.41,178.10 L381.05,177.30 L381.70,176.50 L382.36,175.69 L383.03,174.88 L383.70,174.08 L384.39,173.27 L385.08,172.46 L385.79,171.65 L386.50,170.83 L387.22,170.02 L387.95,169.21 L388.70,168.39 L389.45,167.58 L390.21,166.76 L390.98,165.95 L391.76,165.14 L392.55,164.32 L393.35,163.51 L394.16,162.70 L394.99,161.88 L395.82,161.07 L396.66,160.26 L397.52,159.45 L398.39,158.64 L399.27,157.84 L400.16,157.03 L401.06,156.23 L401.97,155.42 L402.90,154.62 L403.84,153.83 L404.79,153.03 L405.75,152.24 L406.73,151.45 L407.71,150.66 L408.72,149.87 L409.73,149.09 L410.76,148.31 L411.80,147.53 L412.86,146.75 L413.93,145.98 L415.01,145.21 L416.11,144.45 L417.22,143.69 L418.35,142.93 L419.50,142.18 L420.65,141.43 L421.83,140.68 L423.02,139.94 L424.22,139.20 L425.44,138.47 L426.68,137.74 L427.94,137.01 L429.21,136.29 L430.49,135.58 L431.80,134.86 L433.12,134.16 L434.46,133.45 L435.82,132.76 L437.19,132.06 L438.59,131.38 L440.00,130.69 L441.43,130.01 L442.88,129.34 L444.35,128.67 L445.84,128.01 L447.35,127.35 L448.88,126.70 L450.43,126.05 L452.00,125.41 L453.59,124.77 L455.21,124.14 L456.84,123.51 L458.50,122.89 L460.18,122.28 L461.88,121.67 L463.60,121.06 L465.35,120.46 L467.12,119.87 L468.91,119.28 L470.73,118.69 L472.57,118.12 L474.44,117.54 L476.33,116.97 L478.25,116.41 L480.19,115.86 L482.16,115.31 L484.15,114.76 L486.17,114.22 L488.22,113.68 L490.30,113.15 L492.40,112.63 L494.53,112.11 L496.69,111.60 L498.88,111.09 L501.10,110.59 L503.35,110.09 L505.63,109.59 L507.94,109.11 L510.28,108.62 L512.65,108.15 L515.05,107.68 L517.49,107.21 L519.96,106.75 L522.46,106.29 L524.99,105.84 L527.56,105.39 L530.16,104.95 L532.80,104.51 L535.47,104.08 L538.18,103.65 L540.93,103.23 L543.71,102.81 L546.53,102.40 L549.39,101.99 L552.28,101.59 L555.22,101.19 L558.19,100.80 L561.20,100.41 L564.26,100.02 L567.35,99.64 L570.49,99.27 L573.67,98.89 L576.89,98.53 L580.15,98.16 L583.46,97.80 L586.81,97.45 L590.21,97.10 L593.65,96.75 L597.14,96.41 L600.67,96.08 L604.26,95.74 L607.89,95.41 L611.57,95.09 L615.30,94.76 L619.08,94.45 L622.91,94.13 L626.79,93.82 L630.72,93.52 L634.71,93.21 L638.75,92.92 L642.84,92.62 L646.99,92.33 L651.19,92.04 L654.49,91.82" stroke="#eb6235" stroke-width="2.15" stroke-dasharray="3.0 3.0 6.9 2.88" stroke-dashoffset="0.15"/>
</g>
<g stroke="#2e2e2e" stroke-width="0.9" fill="none">
<line x1="0" y1="258.5" x2="667.7" y2="258.5"/>
<line x1="334.5" y1="51.4" x2="334.5" y2="465"/>
<line x1="13.50" y1="258.5" x2="13.50" y2="254.5"/>
<line x1="34.50" y1="258.5" x2="34.50" y2="255.9"/>
<line x1="56.50" y1="258.5" x2="56.50" y2="255.9"/>
<line x1="77.50" y1="258.5" x2="77.50" y2="255.9"/>
<line x1="98.50" y1="258.5" x2="98.50" y2="255.9"/>
<line x1="120.50" y1="258.5" x2="120.50" y2="254.5"/>
<line x1="141.50" y1="258.5" x2="141.50" y2="255.9"/>
<line x1="163.50" y1="258.5" x2="163.50" y2="255.9"/>
<line x1="184.50" y1="258.5" x2="184.50" y2="255.9"/>
<line x1="205.50" y1="258.5" x2="205.50" y2="255.9"/>
<line x1="227.50" y1="258.5" x2="227.50" y2="254.5"/>
<line x1="248.50" y1="258.5" x2="248.50" y2="255.9"/>
<line x1="269.50" y1="258.5" x2="269.50" y2="255.9"/>
<line x1="291.50" y1="258.5" x2="291.50" y2="255.9"/>
<line x1="312.50" y1="258.5" x2="312.50" y2="255.9"/>
<line x1="355.50" y1="258.5" x2="355.50" y2="255.9"/>
<line x1="376.50" y1="258.5" x2="376.50" y2="255.9"/>
<line x1="398.50" y1="258.5" x2="398.50" y2="255.9"/>
<line x1="419.50" y1="258.5" x2="419.50" y2="255.9"/>
<line x1="440.50" y1="258.5" x2="440.50" y2="254.5"/>
<line x1="462.50" y1="258.5" x2="462.50" y2="255.9"/>
<line x1="483.50" y1="258.5" x2="483.50" y2="255.9"/>
<line x1="504.50" y1="258.5" x2="504.50" y2="255.9"/>
<line x1="526.50" y1="258.5" x2="526.50" y2="255.9"/>
<line x1="547.50" y1="258.5" x2="547.50" y2="254.5"/>
<line x1="569.50" y1="258.5" x2="569.50" y2="255.9"/>
<line x1="590.50" y1="258.5" x2="590.50" y2="255.9"/>
<line x1="611.50" y1="258.5" x2="611.50" y2="255.9"/>
<line x1="633.50" y1="258.5" x2="633.50" y2="255.9"/>
<line x1="654.50" y1="258.5" x2="654.50" y2="254.5"/>
<line x1="334.5" y1="461.50" x2="337.1" y2="461.50"/>
<line x1="334.5" y1="449.50" x2="337.1" y2="449.50"/>
<line x1="334.5" y1="437.50" x2="338.5" y2="437.50"/>
<line x1="334.5" y1="425.50" x2="337.1" y2="425.50"/>
<line x1="334.5" y1="413.50" x2="337.1" y2="413.50"/>
<line x1="334.5" y1="401.50" x2="337.1" y2="401.50"/>
<line x1="334.5" y1="389.50" x2="337.1" y2="389.50"/>
<line x1="334.5" y1="377.50" x2="338.5" y2="377.50"/>
<line x1="334.5" y1="365.50" x2="337.1" y2="365.50"/>
<line x1="334.5" y1="353.50" x2="337.1" y2="353.50"/>
<line x1="334.5" y1="341.50" x2="337.1" y2="341.50"/>
<line x1="334.5" y1="329.50" x2="337.1" y2="329.50"/>
<line x1="334.5" y1="317.50" x2="338.5" y2="317.50"/>
<line x1="334.5" y1="305.50" x2="337.1" y2="305.50"/>
<line x1="334.5" y1="294.50" x2="337.1" y2="294.50"/>
<line x1="334.5" y1="282.50" x2="337.1" y2="282.50"/>
<line x1="334.5" y1="270.50" x2="337.1" y2="270.50"/>
<line x1="334.5" y1="246.50" x2="337.1" y2="246.50"/>
<line x1="334.5" y1="234.50" x2="337.1" y2="234.50"/>
<line x1="334.5" y1="222.50" x2="337.1" y2="222.50"/>
<line x1="334.5" y1="210.50" x2="337.1" y2="210.50"/>
<line x1="334.5" y1="198.50" x2="338.5" y2="198.50"/>
<line x1="334.5" y1="186.50" x2="337.1" y2="186.50"/>
<line x1="334.5" y1="174.50" x2="337.1" y2="174.50"/>
<line x1="334.5" y1="162.50" x2="337.1" y2="162.50"/>
<line x1="334.5" y1="150.50" x2="337.1" y2="150.50"/>
<line x1="334.5" y1="138.50" x2="338.5" y2="138.50"/>
<line x1="334.5" y1="126.50" x2="337.1" y2="126.50"/>
<line x1="334.5" y1="114.50" x2="337.1" y2="114.50"/>
<line x1="334.5" y1="102.50" x2="337.1" y2="102.50"/>
<line x1="334.5" y1="90.50" x2="337.1" y2="90.50"/>
<line x1="334.5" y1="78.50" x2="338.5" y2="78.50"/>
<line x1="334.5" y1="66.50" x2="337.1" y2="66.50"/>
<line x1="334.5" y1="54.50" x2="337.1" y2="54.50"/>
</g>
<g opacity="0.995" text-rendering="geometricPrecision" font-family="'Liberation Sans', sans-serif" font-size="15.5" fill="#1a1a1a" stroke="#1a1a1a" stroke-width="0.3">
<text transform="translate(12.86,273.85) scale(0.915,1)" text-anchor="middle">−30</text>
<text transform="translate(119.69,273.85) scale(0.915,1)" text-anchor="middle">−20</text>
<text transform="translate(226.52,273.85) scale(0.915,1)" text-anchor="middle">−10</text>
<text transform="translate(440.18,273.85) scale(0.915,1)" text-anchor="middle">10</text>
<text transform="translate(547.01,273.85) scale(0.915,1)" text-anchor="middle">20</text>
<text transform="translate(653.84,273.85) scale(0.915,1)" text-anchor="middle">30</text>
<text transform="translate(329.6,441.81) scale(0.915,1)" text-anchor="end">−1.5</text>
<text transform="translate(329.6,381.97) scale(0.915,1)" text-anchor="end">−1.0</text>
<text transform="translate(329.6,322.13) scale(0.915,1)" text-anchor="end">−0.5</text>
<text transform="translate(329.6,202.47) scale(0.915,1)" text-anchor="end">0.5</text>
<text transform="translate(329.6,142.63) scale(0.915,1)" text-anchor="end">1.0</text>
<text transform="translate(329.6,82.80) scale(0.915,1)" text-anchor="end">1.5</text>
</g>
<g opacity="0.995" text-rendering="geometricPrecision" font-family="'Liberation Serif', serif" fill="#111">
<path transform="translate(677.4,266.8)" d="M0,-12.2 L0.6,-13.1 C2.2,-13.5 4.2,-13.65 5.6,-13.65 C6.5,-10.8 6.8,-6.8 6.4,-3.6 L11.0,-10.3 C10.1,-11.4 10.2,-13.2 11.6,-13.7 C12.9,-14.1 13.7,-12.9 13.3,-11.5 C12.2,-8.2 7.8,-2.8 4.4,0.1 L3.5,0.1 C4.0,-4.8 3.5,-9.4 2.3,-12.0 C1.7,-12.4 0.7,-12.4 0,-12.2 Z"/>
<text transform="translate(315.6,29.7) scale(1.22,1)" font-size="30.5">f</text>
<text transform="translate(329.6,19.4) scale(0.8,1)" font-size="20.7">1</text>
<path transform="translate(327.2,37.15) scale(0.735)" d="M0,-12.2 L0.6,-13.1 C2.2,-13.5 4.2,-13.65 5.6,-13.65 C6.5,-10.8 6.8,-6.8 6.4,-3.6 L11.0,-10.3 C10.1,-11.4 10.2,-13.2 11.6,-13.7 C12.9,-14.1 13.7,-12.9 13.3,-11.5 C12.2,-8.2 7.8,-2.8 4.4,0.1 L3.5,0.1 C4.0,-4.8 3.5,-9.4 2.3,-12.0 C1.7,-12.4 0.7,-12.4 0,-12.2 Z"/>
<text x="334.6" y="37.1" font-size="20.5">,</text>
<text x="339.5" y="37.1" font-size="20.5">n</text>
</g>
<g fill="none">
<line x1="539.2" y1="335.2" x2="588" y2="335.2" stroke="#5e81b5" stroke-width="2.65" stroke-linecap="butt"/>
<line x1="539.2" y1="370.2" x2="587.5" y2="370.2" stroke="#e19c24" stroke-width="2.15" stroke-dasharray="7.0 2.712"/>
<line x1="539.2" y1="405.1" x2="587.5" y2="405.1" stroke="#8fb032" stroke-width="2.15" stroke-dasharray="3.0 3.07"/>
<line x1="539.2" y1="439.9" x2="586" y2="439.9" stroke="#eb6235" stroke-width="2.15" stroke-dasharray="6.9 2.88 3.0 3.0"/>
</g>
<g opacity="0.995" text-rendering="geometricPrecision" font-family="'Liberation Serif', serif" font-size="20.5" fill="#111">
<text x="593.0" y="339.0">n</text>
<rect x="610.3" y="332.40" width="14.7" height="1.15"/>
<rect x="610.3" y="335.95" width="14.7" height="1.15"/>
<text x="631.2" y="339.0">0</text>
<text x="593.0" y="374.0">n</text>
<rect x="610.3" y="367.40" width="14.7" height="1.15"/>
<rect x="610.3" y="370.95" width="14.7" height="1.15"/>
<text x="631.2" y="374.0">1</text>
<text x="593.0" y="408.9">n</text>
<rect x="610.3" y="402.30" width="14.7" height="1.15"/>
<rect x="610.3" y="405.85" width="14.7" height="1.15"/>
<text x="631.2" y="408.9">2</text>
<text x="593.0" y="443.7">n</text>
<rect x="610.3" y="437.10" width="14.7" height="1.15"/>
<rect x="610.3" y="440.65" width="14.7" height="1.15"/>
<text x="632.2" y="443.7">10</text>
</g>
</svg>
</body></html>
